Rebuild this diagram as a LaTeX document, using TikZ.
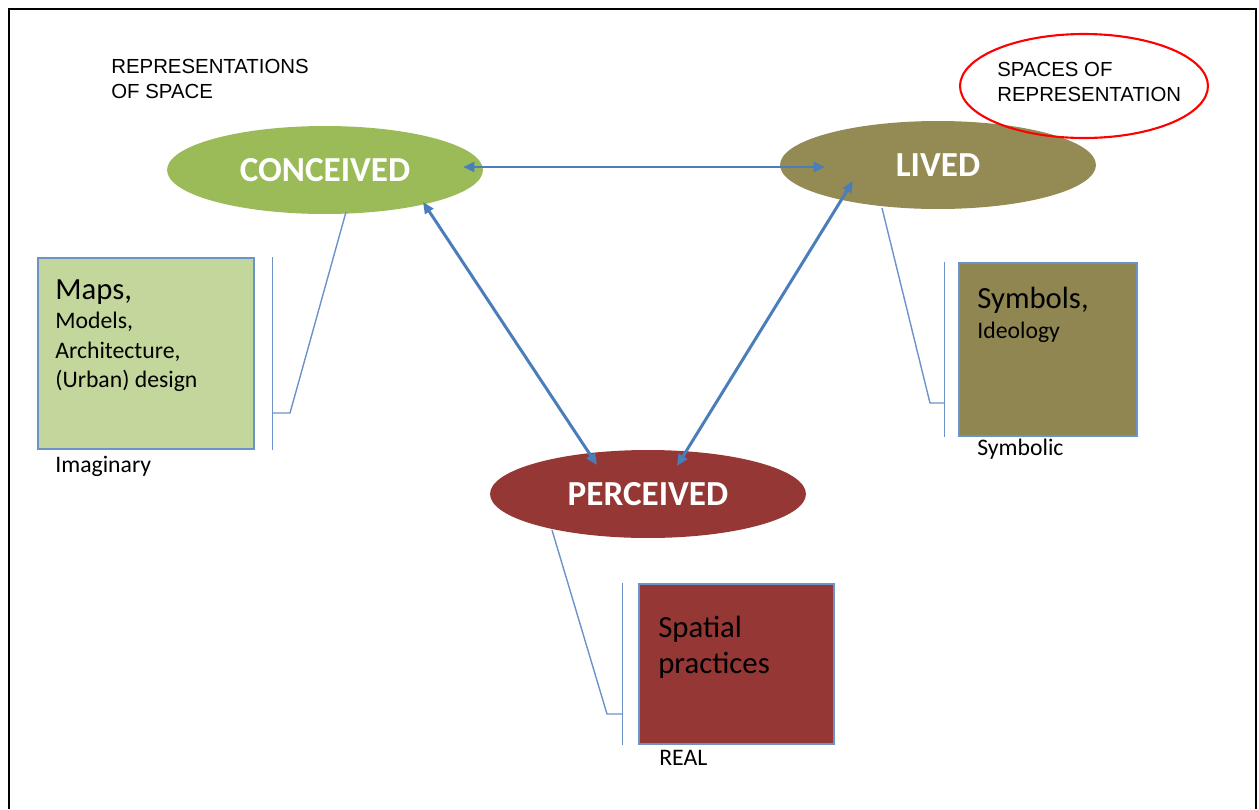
\documentclass[tikz,border=0pt]{standalone}
\usepackage{fontspec}
\setmainfont{Carlito}
\newfontfamily\arialfont{Liberation Sans}
\usetikzlibrary{shapes.geometric,arrows.meta}

\definecolor{conceivedgreen}{HTML}{9BBB59}
\definecolor{livedolive}{HTML}{948A54}
\definecolor{perceivedred}{HTML}{953735}
\definecolor{mapsgreen}{HTML}{C3D69B}
\definecolor{symbolsolive}{HTML}{8F8652}
\definecolor{panelblue}{HTML}{6C93C8}
\definecolor{linkblue}{HTML}{4A7EBB}

\begin{document}
\begin{tikzpicture}[x=0.02cm, y=-0.02cm,
    bubble/.style={ellipse, minimum width=6.32cm, minimum height=1.76cm, inner sep=0pt,
      text=white, font=\fontsize{20}{24}\selectfont\bfseries},
    panel/.style={draw=panelblue, line width=0.6pt, inner sep=0pt},
    link/.style={draw=linkblue, line width=1.7pt,
      arrows={Triangle[length=6.5pt,width=5.5pt]-Triangle[length=6.5pt,width=5.5pt]}},
    callout/.style={draw=panelblue, line width=0.8pt},
    big/.style={anchor=base west, inner sep=0pt, font=\fontsize{17.5}{21}\selectfont},
    small/.style={anchor=base west, inner sep=0pt, font=\fontsize{13.5}{16}\selectfont},
    caps/.style={anchor=base west, inner sep=0pt, font=\arialfont\fontsize{11.6}{14}\selectfont}]

  \useasboundingbox (0,0) rectangle (1259,809);
  \draw [line width=1.4pt] (9,809) -- (9,9) -- (1256,9) -- (1256,809);

  % the three spaces
  \node [bubble, fill=conceivedgreen] (conceived) at (325,170) {CONCEIVED};
  \node [bubble, fill=livedolive] (lived) at (938,165) {LIVED};
  \node [bubble, fill=perceivedred] (perceived) at (648,494) {PERCEIVED};
  \node [ellipse, draw=red, line width=1.2pt, minimum width=4.96cm, minimum height=2.08cm,
    inner sep=0pt] (spaces) at (1084,86) {};

  \node [caps] (rosA) at (111,73) {REPRESENTATIONS};
  \node [caps] (rosB) at (111,98) {OF SPACE};
  \node [caps] (sorA) at (997,76) {SPACES OF};
  \node [caps] (sorB) at (997,101) {REPRESENTATION};

  % boxes
  \node [panel, fill=mapsgreen, minimum width=4.32cm, minimum height=3.82cm] (maps) at (146,353.5) {};
  \node [panel, fill=symbolsolive, minimum width=3.56cm, minimum height=3.46cm] (symbols) at (1048,349.5) {};
  \node [panel, fill=perceivedred, minimum width=3.9cm, minimum height=3.2cm] (practices) at (736.5,664) {};

  \node [big] (mapsHead) at (55,299) {Maps,};
  \foreach \t [count=\i] in {{Models,},{Architecture,},{(Urban) design}}
    \node [small] (maps\i) at (55,{299+29.5*\i}) {\t};
  \node [small] (imaginary) at (55,472) {Imaginary};

  \node [big] (symbolsHead) at (977,308) {Symbols,};
  \node [small] (ideology) at (977,338) {Ideology};
  \node [small] (symbolic) at (977,455) {Symbolic};

  \node [big] (spatial) at (658,637) {Spatial};
  \node [big] (practicesText) at (658,673) {practices};
  \node [small] (real) at (659,765) {REAL};

  % links between the spaces
  \draw [link] ([shift={(138,-3)}]conceived.center) -- ([shift={(-113,2)}]lived.center);
  \draw [link] ([shift={(98,32)}]conceived.center) -- ([shift={(-51,-29)}]perceived.center);
  \draw [link] ([shift={(-85,16)}]lived.center) -- ([shift={(29,-28)}]perceived.center);

  % callouts
  \draw [callout] ([shift={(18,0)}]maps.north east) -- ([shift={(18,0)}]maps.south east);
  \draw [callout] ([shift={(21,42)}]conceived.center) -- ++(-56,201) -- ++(-18,0);
  \draw [callout] ([shift={(-14,0)}]symbols.north west) -- ([shift={(-14,0)}]symbols.south west);
  \draw [callout] ([shift={(-56,43)}]lived.center) -- ++(48,195) -- ++(15,0);
  \draw [callout] ([shift={(-16,0)}]practices.north west) -- ([shift={(-16,0)}]practices.south west);
  \draw [callout] ([shift={(-96,36)}]perceived.center) -- ++(55,184) -- ++(16,0);
\end{tikzpicture}
\end{document}
